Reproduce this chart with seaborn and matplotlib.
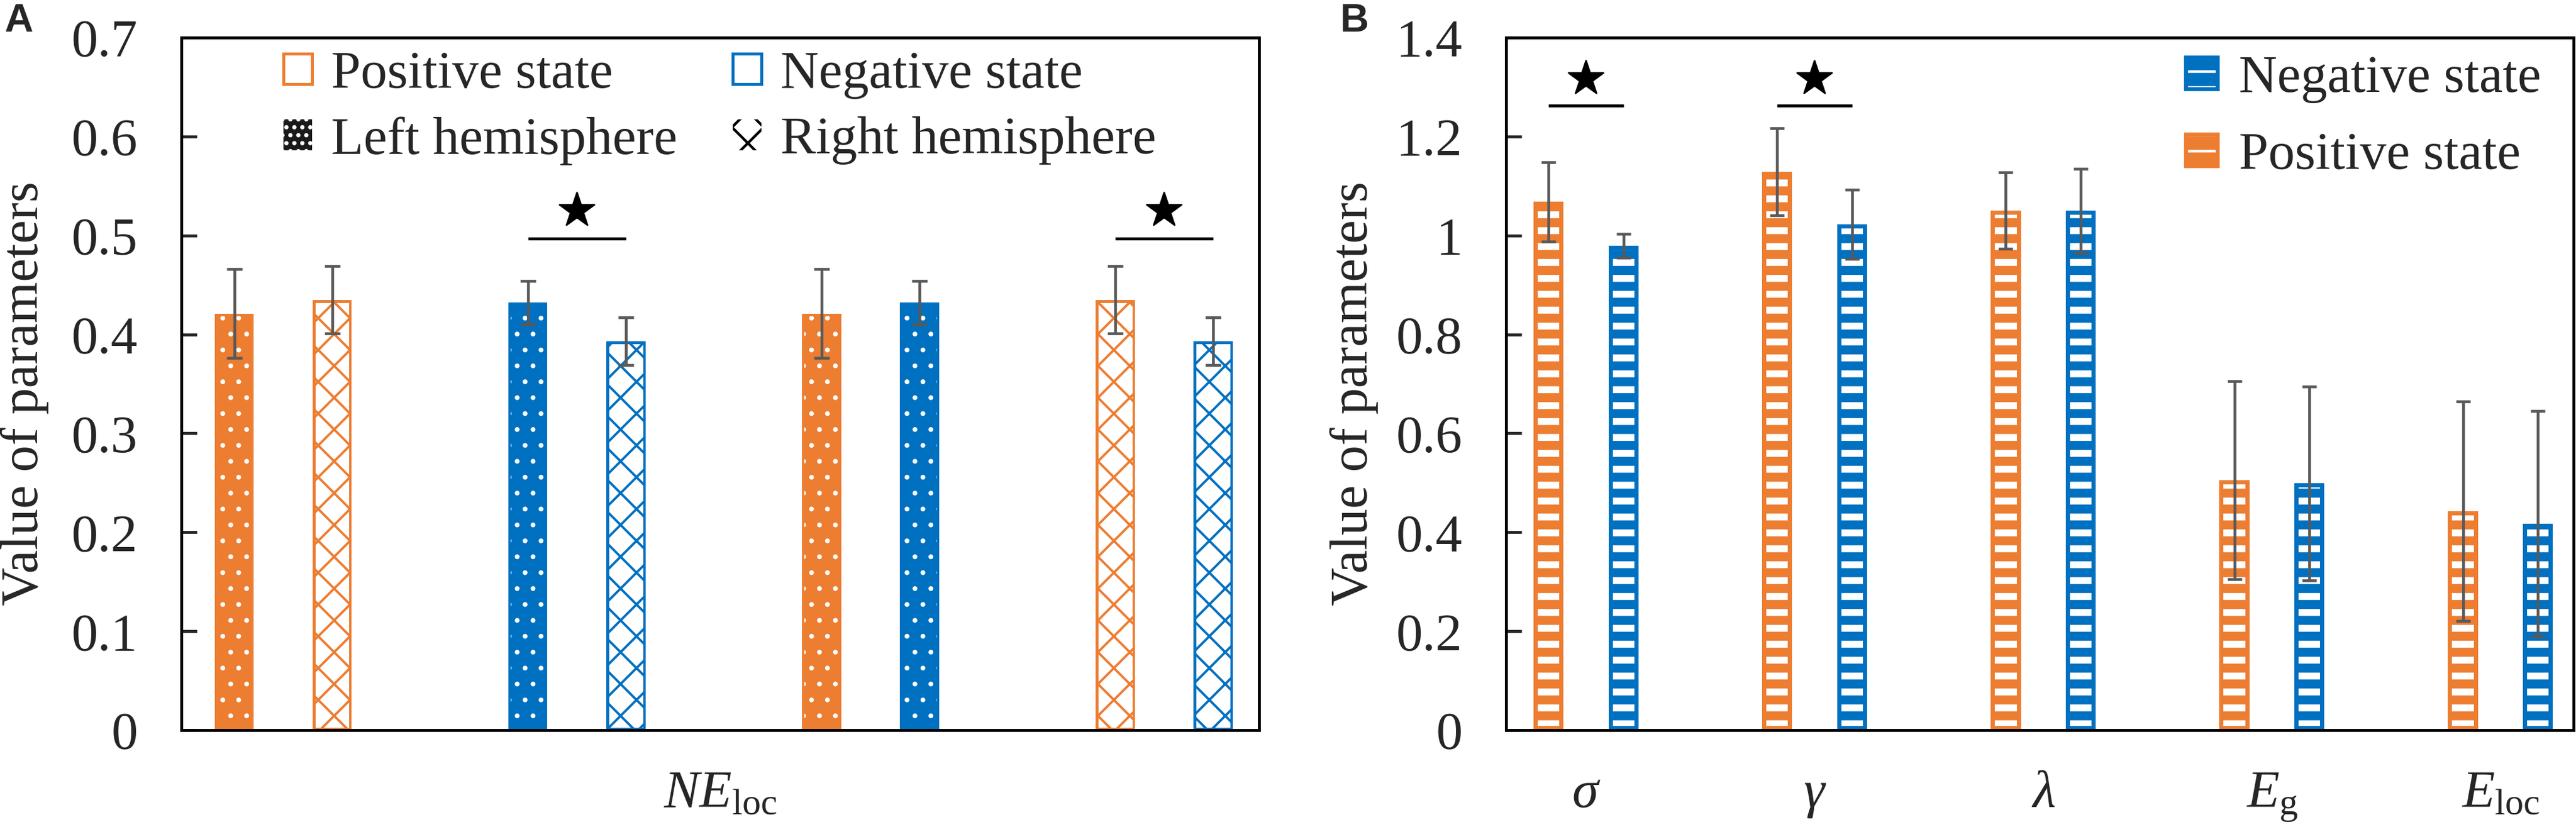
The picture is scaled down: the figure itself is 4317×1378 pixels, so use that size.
import numpy as np
import pandas as pd
import matplotlib
matplotlib.use("Agg")
import matplotlib.pyplot as plt
from matplotlib.patches import Patch, Rectangle
from matplotlib.ticker import FuncFormatter, MultipleLocator
import seaborn as sns

# Panel A: NE_loc, four pairwise comparisons (state x hemisphere)
a_slot = ["p1", "p2", "p3", "p4", "p5", "p6", "p7", "p8"]
a_state = ["pos", "pos", "neg", "neg", "pos", "neg", "pos", "neg"]
a_hemi = ["left", "right", "left", "right", "left", "left", "right", "right"]
a_value = [0.421, 0.435, 0.432, 0.393, 0.421, 0.432, 0.435, 0.393]
a_err = [0.045, 0.034, 0.022, 0.024, 0.045, 0.022, 0.034, 0.024]
a_sig = [("p3", "p4"), ("p7", "p8")]
a_sig_y = 0.497

# Panel B: network parameters, positive vs negative state
b_param = [r"$\sigma$", r"$\gamma$", r"$\lambda$", r"$E_{\rm g}$", r"$E_{\rm loc}$"]
b_pos = [1.068, 1.129, 1.050, 0.505, 0.443]
b_pos_err = [0.080, 0.088, 0.077, 0.200, 0.222]
b_neg = [0.979, 1.023, 1.050, 0.499, 0.417]
b_neg_err = [0.024, 0.070, 0.085, 0.196, 0.228]
b_sig = [r"$\sigma$", r"$\gamma$"]
b_sig_y = 1.263

ORANGE = "#ED7D31"
BLUE = "#0070C0"
ERR = "#595959"

sns.set_style("ticks")
plt.rcParams["font.family"] = ["Liberation Serif", "DejaVu Sans"]
plt.rcParams["mathtext.fontset"] = "custom"
plt.rcParams["mathtext.rm"] = "Liberation Serif"
plt.rcParams["mathtext.it"] = "Liberation Serif:italic"
plt.rcParams["hatch.linewidth"] = 2.0

W, H, DPI = 4317, 1378, 160
fig = plt.figure(figsize=(W / DPI, H / DPI), dpi=DPI)
axA = fig.add_axes([304 / W, 154 / H, 1806 / W, 1161 / H])
axB = fig.add_axes([2524 / W, 154 / H, 1789 / W, 1161 / H])


def hatch_bar(ax, p, face, hatch_col, hatch, hlw, rim_col, rim_lw):
    # hatch colour follows edgecolor, so the visible rim is a separate clipped outline
    p.set_facecolor(face)
    p.set_edgecolor(hatch_col)
    p.set_linewidth(0)
    p.set_hatch(hatch)
    if hasattr(p, "set_hatch_linewidth"):
        p.set_hatch_linewidth(hlw)
    rim = Rectangle(p.get_xy(), p.get_width(), p.get_height(), fill=False,
                    edgecolor=rim_col, linewidth=rim_lw, zorder=p.get_zorder())
    ax.add_patch(rim)
    rim.set_clip_path(p)


def style_axis(ax, top, step):
    ax.set_ylim(0, top)
    ax.yaxis.set_major_locator(MultipleLocator(step))
    ax.yaxis.set_major_formatter(FuncFormatter(lambda v, _: f"{v:g}"))
    ax.tick_params(axis="y", direction="in", length=11.7, width=2.2,
                   labelsize=40, pad=33, right=False)
    ax.tick_params(axis="x", length=0, labelsize=40, pad=58)
    for sp in ax.spines.values():
        sp.set_visible(True)
        sp.set_linewidth(2.2)
        sp.set_color("black")
    ax.set_ylabel("Value of parameters", fontsize=40)


# ---- panel A ----
dfa = pd.DataFrame(dict(slot=a_slot, state=a_state, hemi=a_hemi, value=a_value, err=a_err))
order_a = ["p1", "p2", "gap1", "p3", "p4", "gap2", "p5", "p6", "gap3", "p7", "p8"]
state_col = {"pos": ORANGE, "neg": BLUE}
sns.barplot(data=dfa, x="slot", y="value", hue="slot", hue_order=a_slot, order=order_a,
            palette={s: state_col[c] for s, c in zip(a_slot, a_state)},
            width=0.4, errorbar=None, legend=False, ax=axA)

rowsA = dfa.set_index("slot")
centersA = {}
for p in list(axA.patches):
    xc = p.get_x() + p.get_width() / 2
    slot = order_a[int(round(xc))]
    r = rowsA.loc[slot]
    col = state_col[r.state]
    centersA[slot] = xc
    if r.hemi == "left":
        hatch_bar(axA, p, col, "white", ".", 1.2, col, 3.5)
    else:
        hatch_bar(axA, p, "white", col, "x", 1.8, col, 4.0)

axA.errorbar([centersA[s] for s in a_slot], a_value, yerr=a_err, fmt="none",
             ecolor=ERR, elinewidth=2.1, capsize=6, capthick=2.1, zorder=5)
for s1, s2 in a_sig:
    x1, x2 = centersA[s1], centersA[s2]
    axA.plot([x1, x2], [a_sig_y, a_sig_y], color="black", lw=2.2, solid_capstyle="butt")
    axA.plot([(x1 + x2) / 2], [a_sig_y + 0.028], marker="*", ms=28, color="black", ls="none")

style_axis(axA, 0.7, 0.1)
axA.set_xlim(-0.54, 10.47)
axA.set_xticks([])
axA.set_xlabel(r"$NE_{\rm loc}$", fontsize=40, va="baseline")
axA.xaxis.set_label_coords(0.5, -0.111)
axA.yaxis.set_label_coords(-0.123, 0.486)

handlesA = [
    Patch(facecolor="white", edgecolor=ORANGE, linewidth=2.2),
    Patch(facecolor="#1a1a1a", edgecolor="white", linewidth=0, hatch=".."),
    Patch(facecolor="white", edgecolor=BLUE, linewidth=2.2),
    Patch(facecolor="white", edgecolor="black", linewidth=0, hatch="x"),
]
labelsA = ["Positive state", "Left hemisphere", "Negative state", "Right hemisphere"]
axA.legend(handlesA, labelsA, ncol=2, loc="upper left", bbox_to_anchor=(0.0947, 0.981),
           frameon=False, fontsize=40, handlelength=0.54, handleheight=0.52,
           handletextpad=0.36, columnspacing=1.05, labelspacing=0.33,
           borderpad=0, borderaxespad=0)

# ---- panel B ----
states_b = ["Positive state", "Negative state"]
pal_b = {"Positive state": ORANGE, "Negative state": BLUE}
dfb = pd.DataFrame(dict(param=b_param * 2,
                        state=[states_b[0]] * len(b_param) + [states_b[1]] * len(b_param),
                        value=b_pos + b_neg, err=b_pos_err + b_neg_err))
sns.barplot(data=dfb, x="param", y="value", hue="state", order=b_param, hue_order=states_b,
            palette=pal_b, width=0.656, gap=0.6, errorbar=None, legend=False, ax=axB)

rowsB = dfb.set_index(["param", "state"])
centersB = {}
xb, yb, eb = [], [], []
for p in list(axB.patches):
    xc = p.get_x() + p.get_width() / 2
    i = int(round(xc))
    st = states_b[0] if xc < i else states_b[1]
    r = rowsB.loc[(b_param[i], st)]
    col = pal_b[st]
    hatch_bar(axB, p, col, "white", "-", 5.2, col, 6.3)
    centersB[(b_param[i], st)] = xc
    xb.append(xc)
    yb.append(r.value)
    eb.append(r.err)

axB.errorbar(xb, yb, yerr=eb, fmt="none", ecolor=ERR, elinewidth=2.1,
             capsize=5.5, capthick=2.1, zorder=5)
for prm in b_sig:
    x1, x2 = centersB[(prm, states_b[0])], centersB[(prm, states_b[1])]
    axB.plot([x1, x2], [b_sig_y, b_sig_y], color="black", lw=2.2, solid_capstyle="butt")
    axB.plot([(x1 + x2) / 2], [b_sig_y + 0.054], marker="*", ms=28, color="black", ls="none")

style_axis(axB, 1.4, 0.2)
axB.set_xlim(-0.35, 4.32)
axB.set_xlabel("")
plt.setp(axB.get_xticklabels(), va="baseline")
axB.yaxis.set_label_coords(-0.1196, 0.486)


def stripe_handle(col):
    fill = Patch(facecolor=col, edgecolor="white", linewidth=0, hatch="-")
    if hasattr(fill, "set_hatch_linewidth"):
        fill.set_hatch_linewidth(5.2)
    return (fill, Patch(facecolor="none", edgecolor=col, linewidth=3))


axB.legend([stripe_handle(BLUE), stripe_handle(ORANGE)], ["Negative state", "Positive state"],
           loc="upper left", bbox_to_anchor=(0.6367, 0.975), frameon=False, fontsize=40,
           handlelength=0.6, handleheight=0.54, handletextpad=0.4, labelspacing=0.54,
           borderpad=0, borderaxespad=0)

for lbl, x in (("A", 7), ("B", 2246)):
    fig.text(x / W, 1 - 53 / H, lbl, fontsize=30, fontweight="bold",
             family="Liberation Sans", va="baseline")

fig.savefig("out.png", dpi=DPI)
